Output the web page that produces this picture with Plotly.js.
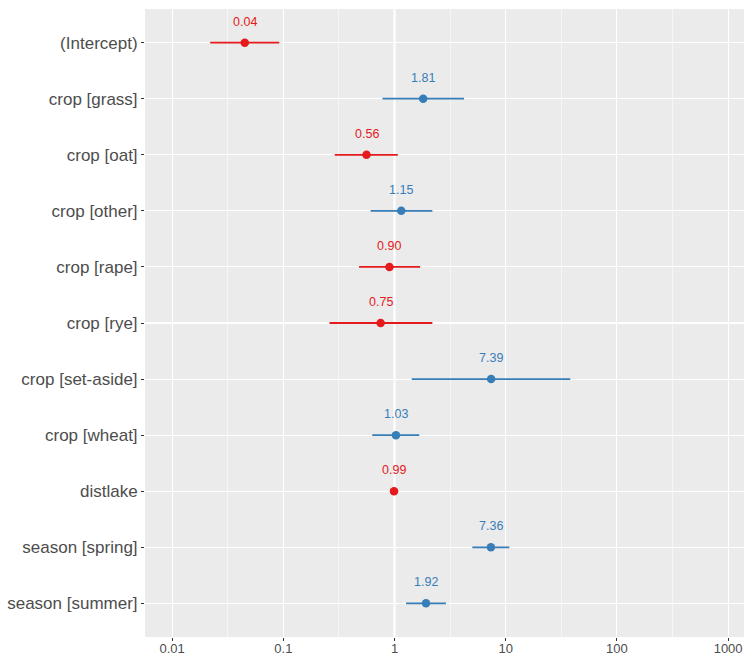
<!DOCTYPE html>
<html>
<head>
<meta charset="utf-8">
<script src="https://cdn.plot.ly/plotly-3.0.1.min.js"></script>
<style>html,body{margin:0;padding:0;background:#fff;}#chart{width:745px;height:655px;}</style>
</head>
<body>
<div id="chart"></div>
<script>
var terms = ["(Intercept)", "crop [grass]", "crop [oat]", "crop [other]", "crop [rape]", "crop [rye]", "crop [set-aside]", "crop [wheat]", "distlake", "season [spring]", "season [summer]"];
var estimates = [0.045, 1.81, 0.56, 1.15, 0.90, 0.75, 7.39, 1.03, 0.99, 7.36, 1.92];
var labels = ["0.04", "1.81", "0.56", "1.15", "0.90", "0.75", "7.39", "1.03", "0.99", "7.36", "1.92"];
var ciLow = [0.022, 0.78, 0.29, 0.61, 0.48, 0.26, 1.43, 0.63, 0.98, 5.01, 1.27];
var ciHigh = [0.092, 4.22, 1.07, 2.19, 1.70, 2.19, 38.1, 1.67, 1.00, 10.77, 2.90];
var xTicks = [0.01, 0.1, 1, 10, 100, 1000];
var xTickText = ["0.01", "0.1", "1", "10", "100", "1000"];

var RED = "#E41A1C", BLUE = "#377EB8";
var pos = terms.map(function(_, i){ return i + 1; });
var colors = estimates.map(function(v){ return v < 1 ? RED : BLUE; });

var traces = [];
traces.push({x:[1,1], y:[0.4, terms.length + 0.6], mode:"lines", line:{color:"#ffffff", width:2.2}, hoverinfo:"skip", showlegend:false});

terms.forEach(function(t, i){
  traces.push({
    x:[estimates[i]], y:[pos[i]], mode:"markers", type:"scatter",
    marker:{color:colors[i], size:8.5},
    error_x:{type:"data", symmetric:false, array:[ciHigh[i]-estimates[i]], arrayminus:[estimates[i]-ciLow[i]], color:colors[i], thickness:1.8, width:0},
    showlegend:false, hoverinfo:"x+y"
  });
});

var annotations = terms.map(function(t, i){
  return {x:Math.log10(estimates[i]), y:pos[i], xref:"x", yref:"y", text:labels[i], showarrow:false, yshift:21,
    font:{family:"Liberation Sans, Arial, sans-serif", size:12.5, color:colors[i]}};
});

var minorVals = xTicks.slice(0, -1).map(function(v){ return v*Math.sqrt(10); });
minorVals.unshift(0.01/Math.sqrt(10));

var layout = {
  width:745, height:655,
  margin:{l:145, r:1, t:9, b:18, pad:0},
  paper_bgcolor:"#ffffff", plot_bgcolor:"#EBEBEB",
  font:{family:"Liberation Sans, Arial, sans-serif", color:"#4D4D4D"},
  xaxis:{type:"log", range:[-2.244, 3.143], tickmode:"array", tickvals:xTicks, ticktext:xTickText,
    showgrid:true, gridcolor:"#ffffff", gridwidth:1.1, zeroline:false, showline:false,
    ticks:"outside", ticklen:3, tickcolor:"#333333", tickwidth:1, ticklabelstandoff:-4, tickfont:{size:13, color:"#4D4D4D"},
    minor:{tickmode:"array", tickvals:minorVals, showgrid:true, gridcolor:"#ffffff", gridwidth:0.55, ticks:""}},
  yaxis:{range:[terms.length + 0.6, 0.4], tickmode:"array", tickvals:pos, ticktext:terms,
    showgrid:true, gridcolor:"#ffffff", gridwidth:1.1, zeroline:false, showline:false,
    ticks:"outside", ticklen:3, tickcolor:"#333333", tickwidth:1, tickfont:{size:17, color:"#4D4D4D"}},
  annotations:annotations,
  showlegend:false
};

Plotly.newPlot("chart", traces, layout, {displayModeBar:false, staticPlot:true});
</script>
</body>
</html>
